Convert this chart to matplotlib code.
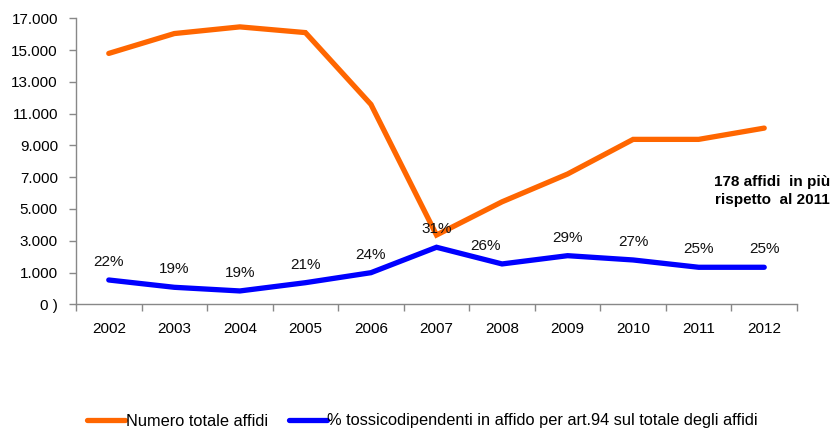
import matplotlib
matplotlib.use("Agg")
import matplotlib.pyplot as plt
from matplotlib.ticker import FixedLocator

plt.rcParams['font.family'] = ['Liberation Sans', 'DejaVu Sans']

years = ['2002', '2003', '2004', '2005', '2006', '2007', '2008', '2009', '2010', '2011', '2012']
totale_affidi = [14790, 16040, 16460, 16100, 11580, 3360, 5450, 7200, 9380, 9380, 10090]
tossico_line = [530, 70, -160, 360, 990, 2590, 1540, 2060, 1790, 1330, 1330]
tossico_pct = ['22%', '19%', '19%', '21%', '24%', '31%', '26%', '29%', '27%', '25%', '25%']
ytick_vals = [-1000, 1000, 3000, 5000, 7000, 9000, 11000, 13000, 15000, 17000]
ytick_labels = ['0 )', '1.000', '3.000', '5.000', '7.000', '9.000', '11.000', '13.000', '15.000', '17.000']
label_dx = [0, 0, 0, 0, 0, 0, -17, 0, 0, 0, 0]

fig = plt.figure(figsize=(8.35, 4.28), dpi=100)
ax = fig.add_axes([76/835, 1-304.3/428, (797-76)/835, (304.3-18.3)/428])

x = list(range(len(years)))
l1, = ax.plot(x, totale_affidi, color='#FF6600', lw=3.8, solid_capstyle='round', solid_joinstyle='miter',
              label='Numero totale affidi')
l2, = ax.plot(x, tossico_line, color='#0000FF', lw=3.8, solid_capstyle='round', solid_joinstyle='miter',
              label='% tossicodipendenti in affido per art.94 sul totale degli affidi')

for xi, yi, lab, dx in zip(x, tossico_line, tossico_pct, label_dx):
    ax.annotate(lab, (xi, yi), xytext=(dx, 18), textcoords='offset pixels',
                ha='center', va='center', fontsize=11, color='#111111')

ax.set_xlim(-0.5, len(years) - 0.5)
ax.set_ylim(-1000, 17000)
ax.set_yticks(ytick_vals)
ax.set_yticklabels(ytick_labels, fontsize=11)
ax.set_xticks(x)
ax.set_xticklabels(years, fontsize=11)
ax.xaxis.set_minor_locator(FixedLocator([i - 0.5 for i in range(len(years) + 1)]))
ax.tick_params(axis='x', which='major', length=0, pad=13)
ax.tick_params(axis='x', which='minor', length=5, color='#888888', width=1)
ax.tick_params(axis='y', length=5, color='#888888', width=1, pad=8)

for s in ['top', 'right']:
    ax.spines[s].set_visible(False)
for s in ['left', 'bottom']:
    ax.spines[s].set_color('#888888')
    ax.spines[s].set_linewidth(1)

fig.text(830/835, 1-182/428, '178 affidi  in più', ha='right', va='center', fontsize=11, fontweight='bold')
fig.text(830/835, 1-200/428, 'rispetto  al 2011', ha='right', va='center', fontsize=11, fontweight='bold')

fig.legend(handles=[l1, l2], loc='center left', bbox_to_anchor=(87/835, 1-421/428), ncol=2,
           frameon=False, fontsize=11.8, handlelength=2.3, handletextpad=0.05, columnspacing=1.3,
           borderaxespad=0, borderpad=0)

fig.savefig('out.png', dpi=100)
